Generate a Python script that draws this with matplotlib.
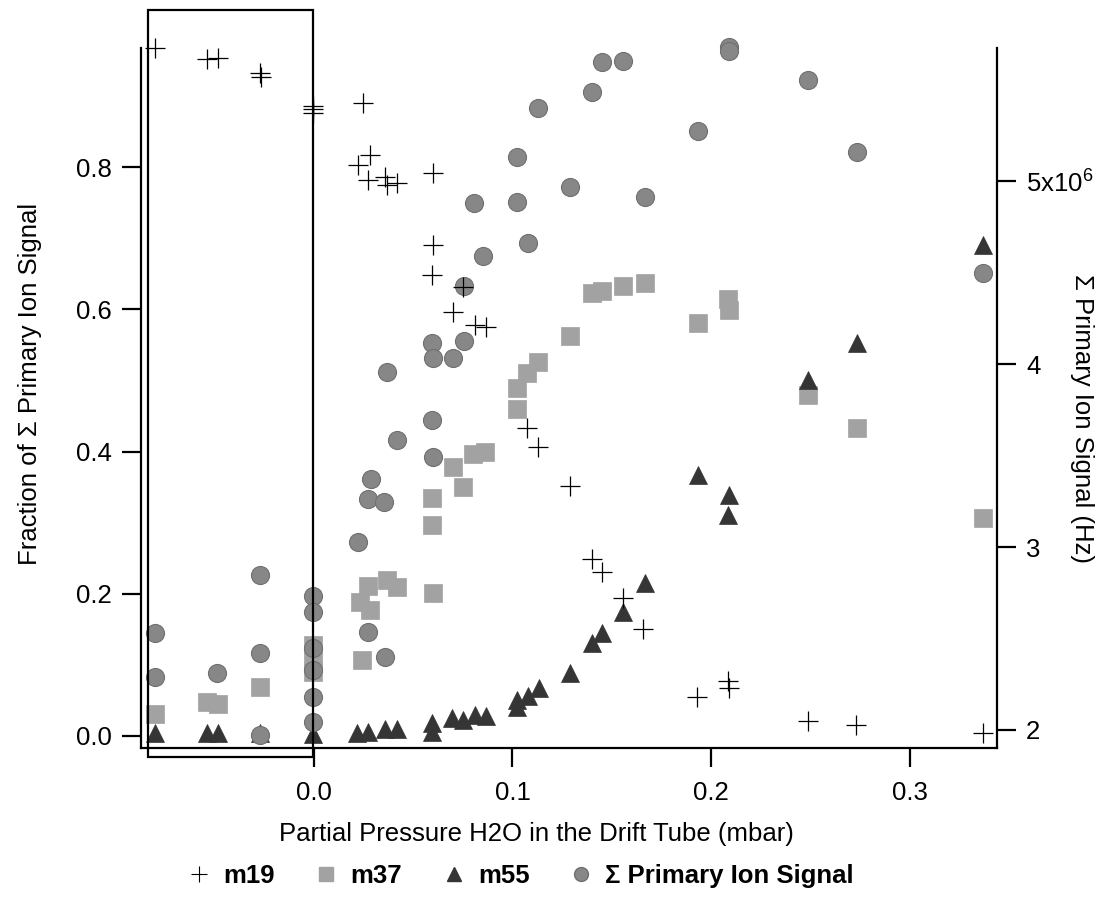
import matplotlib
matplotlib.use("Agg")
import matplotlib.pyplot as plt
from matplotlib.lines import Line2D
from matplotlib.patches import Rectangle

plt.rcParams['font.family'] = ['Liberation Sans', 'DejaVu Sans']
plt.rcParams['mathtext.fontset'] = 'custom'
plt.rcParams['mathtext.rm'] = 'Liberation Sans'
plt.rcParams['mathtext.it'] = 'Liberation Sans:italic'

# ---- data ----
m19_x = [-0.0801, -0.0539, -0.0484, -0.0272, -0.0267, -0.0005, -0.0005, -0.0005,
         0.0247, 0.0282, 0.0222, 0.0272, 0.0358, 0.0368, 0.0418, 0.0600,
         0.0600, 0.0594, 0.0751, 0.0700, 0.0811, 0.0866, 0.1073, 0.1128,
         0.1290, 0.1400, 0.1451, 0.1557, 0.1657, 0.1929, 0.2086, 0.2091,
         0.2489, 0.2730, 0.3370]
m19_y = [0.968, 0.952, 0.954, 0.933, 0.927, 0.886, 0.882, 0.876,
         0.890, 0.817, 0.803, 0.782, 0.786, 0.775, 0.778, 0.792,
         0.691, 0.648, 0.632, 0.596, 0.578, 0.575, 0.433, 0.406,
         0.352, 0.249, 0.231, 0.194, 0.150, 0.055, 0.077, 0.068,
         0.021, 0.015, 0.004]

m37_x = [-0.0801, -0.0539, -0.0484, -0.0272, -0.0005, -0.0005, -0.0005,
         0.0242, 0.0232, 0.0282, 0.0272, 0.0368, 0.0418, 0.0600,
         0.0594, 0.0594, 0.0700, 0.0751, 0.0801, 0.0861,
         0.1023, 0.1023, 0.1073, 0.1128, 0.1290, 0.1400, 0.1451, 0.1557, 0.1668,
         0.1935, 0.2086, 0.2091, 0.2489, 0.2736, 0.3370]
m37_y = [0.031, 0.048, 0.045, 0.069, 0.128, 0.107, 0.090,
         0.107, 0.188, 0.177, 0.211, 0.219, 0.210, 0.201,
         0.335, 0.297, 0.378, 0.350, 0.397, 0.399,
         0.460, 0.489, 0.511, 0.526, 0.563, 0.623, 0.626, 0.633, 0.637,
         0.581, 0.615, 0.599, 0.480, 0.433, 0.307]

m55_x = [-0.0801, -0.0539, -0.0484, -0.0272, -0.0005,
         0.0217, 0.0272, 0.0358, 0.0418, 0.0594, 0.0594,
         0.0695, 0.0751, 0.0811, 0.0866, 0.1023, 0.1023, 0.1078, 0.1134,
         0.1290, 0.1400, 0.1451, 0.1557, 0.1668,
         0.1935, 0.2091, 0.2086, 0.2489, 0.2736, 0.3370]
m55_y = [0.004, 0.004, 0.004, 0.004, 0.003,
         0.004, 0.006, 0.010, 0.010, 0.018, 0.006,
         0.025, 0.023, 0.030, 0.028, 0.051, 0.041, 0.056, 0.068,
         0.089, 0.131, 0.145, 0.174, 0.215,
         0.367, 0.339, 0.311, 0.501, 0.553, 0.691]

sum_x = [-0.0801, -0.0801, -0.0489, -0.0272, -0.0272, -0.0272,
         -0.0005, -0.0005, -0.0005, -0.0005, -0.0005, -0.0005,
         0.0272, 0.0358, 0.0222, 0.0272, 0.0287, 0.0353, 0.0418,
         0.0594, 0.0600, 0.0368, 0.0594, 0.0600, 0.0700, 0.0756,
         0.0756, 0.0851, 0.0806, 0.1078, 0.1023, 0.1023, 0.1128,
         0.1290, 0.1400, 0.1451, 0.1557, 0.1668, 0.1935, 0.2091, 0.2091,
         0.2489, 0.2736, 0.3370]
sum_y = [2.530e6, 2.290e6, 2.311e6, 2.847e6, 2.421e6, 1.973e6,
         2.732e6, 2.645e6, 2.448e6, 2.328e6, 2.180e6, 2.044e6,
         2.536e6, 2.399e6, 3.027e6, 3.262e6, 3.372e6, 3.246e6, 3.585e6,
         3.694e6, 3.492e6, 3.956e6, 4.115e6, 4.033e6, 4.033e6, 4.126e6,
         4.426e6, 4.590e6, 4.880e6, 4.661e6, 4.885e6, 5.131e6, 5.399e6,
         4.967e6, 5.486e6, 5.650e6, 5.656e6, 4.913e6, 5.273e6, 5.735e6, 5.710e6,
         5.552e6, 5.158e6, 4.497e6]

x_ticks = [0.0, 0.1, 0.2, 0.3]
x_ticklabels = ['0.0', '0.1', '0.2', '0.3']
y_ticks = [0.0, 0.2, 0.4, 0.6, 0.8]
y_ticklabels = ['0.0', '0.2', '0.4', '0.6', '0.8']
r_ticks = [2e6, 3e6, 4e6, 5e6]
r_ticklabels = ['2', '3', '4', r'5x10$^{6}$']

legend_labels = ['m19', 'm37', 'm55', 'Σ Primary Ion Signal']

# ---- figure ----
FS = 18.5
W, H = 1108, 898
fig = plt.figure(figsize=(W / 100, H / 100), dpi=100)
L, R, T, B = 141, 997, 48, 748
ax1 = fig.add_axes([L / W, (H - B) / H, (R - L) / W, (B - T) / H])
ax1.set_xlim(-0.08715, 0.34408)
ax1.set_ylim(-0.0169, 0.9677)

ax2 = ax1.twinx()
ax2.set_ylim(1.9016e6, 5.727e6)
ax3 = ax1.twinx()
ax3.set_ylim(-0.0169, 0.9677)
ax3.axis('off')

c_sq = '#a2a2a2'
c_ci = '#878787'
c_tr = '#353535'

ax1.plot(m37_x, m37_y, 's', ms=13.5, color=c_sq, mec=c_sq, mew=0.5, clip_on=False)
ax1.plot(m55_x, m55_y, '^', ms=13.5, color=c_tr, mec=c_tr, mew=0.5, clip_on=False)
ax2.plot(sum_x, sum_y, 'o', ms=13, color=c_ci, mec='#707070', mew=0.8, clip_on=False)
ax3.plot(m19_x, m19_y, '+', ms=14, color='black', mew=0.9, clip_on=False)

lw = 1.6
for ax in (ax1, ax2):
    for s in ax.spines.values():
        s.set_linewidth(lw)
ax1.spines['top'].set_visible(False)
ax1.spines['right'].set_visible(False)
ax2.spines['top'].set_visible(False)
ax2.spines['left'].set_visible(False)
ax2.spines['bottom'].set_visible(False)

ax1.set_xticks(x_ticks)
ax1.set_xticklabels(x_ticklabels)
ax1.set_yticks(y_ticks)
ax1.set_yticklabels(y_ticklabels)
ax2.set_yticks(r_ticks)
ax2.set_yticklabels(r_ticklabels)

ax1.tick_params(axis='both', direction='out', length=14, width=lw, labelsize=FS, pad=7)
ax1.tick_params(axis='x', pad=10)
ax2.tick_params(axis='y', direction='out', length=14, width=lw, labelsize=FS, pad=7)

# box drawn around the left region
fig.add_artist(Rectangle((148 / W, (H - 757) / H), (313 - 148) / W, (757 - 10) / H,
                         transform=fig.transFigure, fill=False, lw=lw, ec='black'))

fig.text(536 / W, 1 - 834 / H, 'Partial Pressure H2O in the Drift Tube (mbar)',
         ha='center', va='center', fontsize=FS)
fig.text(30 / W, 1 - 384 / H, 'Fraction of Σ Primary Ion Signal',
         ha='center', va='center', rotation=90, fontsize=FS)
fig.text(1082 / W, 1 - 419 / H, 'Σ Primary Ion Signal (Hz)',
         ha='center', va='center', rotation=270, fontsize=FS)

handles = [
    Line2D([], [], ls='none', marker='+', ms=12, color='black', mew=0.8),
    Line2D([], [], ls='none', marker='s', ms=10, color=c_sq, mec=c_sq),
    Line2D([], [], ls='none', marker='^', ms=10, color=c_tr, mec=c_tr),
    Line2D([], [], ls='none', marker='o', ms=10, color=c_ci, mec='#707070'),
]
fig.legend(handles, legend_labels, loc='center', ncol=4, frameon=False,
           bbox_to_anchor=(520 / W, 1 - 876 / H),
           prop={'weight': 'bold', 'size': FS}, handletextpad=0.45,
           columnspacing=1.5, handlelength=1.0)

fig.savefig('out.png', dpi=100)
